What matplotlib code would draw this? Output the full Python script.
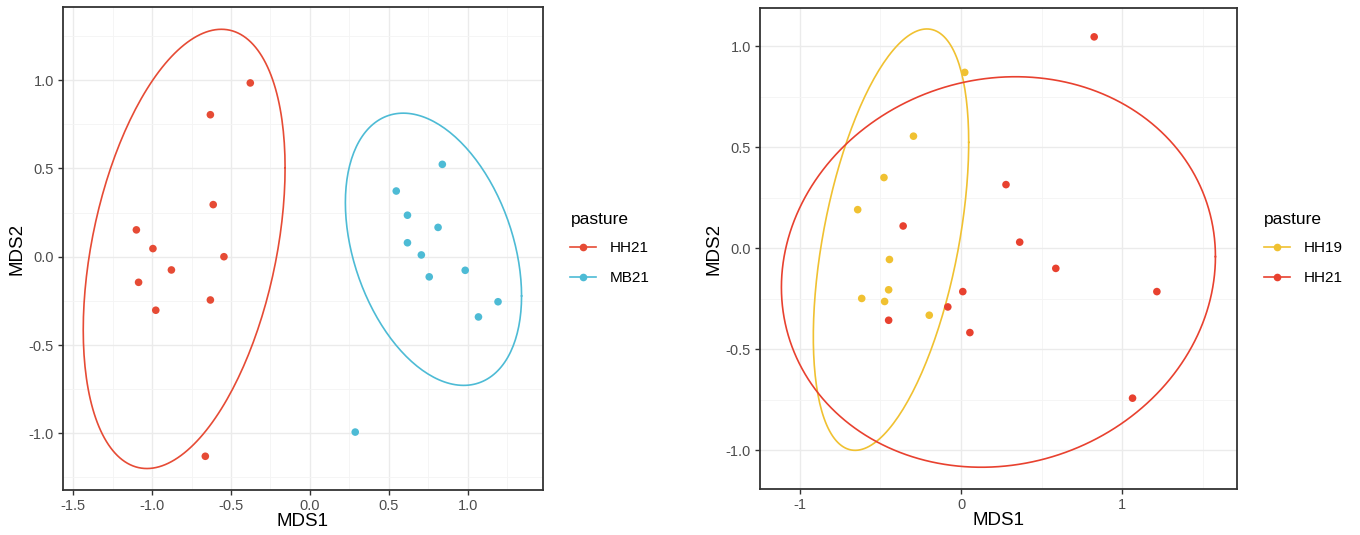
import numpy as np
import matplotlib
matplotlib.use('Agg')
import matplotlib.pyplot as plt
from matplotlib.lines import Line2D
from matplotlib.ticker import MultipleLocator

plt.rcParams['font.family'] = ['Liberation Sans', 'DejaVu Sans']

# left panel: HH21 vs MB21
L_HH21_X = [-0.378, -0.631, -0.613, -1.100, -0.995, -0.878, -0.545, -1.086, -0.977, -0.631, -0.663]
L_HH21_Y = [0.984, 0.804, 0.295, 0.152, 0.046, -0.075, 0.000, -0.145, -0.303, -0.245, -1.130]
L_MB21_X = [0.839, 0.547, 0.618, 0.812, 0.618, 0.706, 0.984, 0.756, 1.192, 1.068, 0.287]
L_MB21_Y = [0.523, 0.372, 0.235, 0.166, 0.079, 0.010, -0.077, -0.114, -0.255, -0.341, -0.993]

# right panel: HH19 vs HH21
R_HH19_X = [0.023, -0.295, -0.478, -0.641, -0.444, -0.449, -0.616, -0.474, -0.197]
R_HH19_Y = [0.871, 0.555, 0.350, 0.191, -0.056, -0.206, -0.249, -0.264, -0.332]
R_HH21_X = [0.826, 0.279, -0.359, 0.364, 0.588, 0.011, 1.215, -0.082, -0.449, 0.055, 1.064]
R_HH21_Y = [1.047, 0.315, 0.110, 0.030, -0.100, -0.215, -0.215, -0.291, -0.357, -0.418, -0.743]

RED = '#E64B35'
CYAN = '#4DBBD5'
YELLOW = '#F0C131'
RED2 = '#E8412F'


def cov_trob(pts, nu=5, maxit=25, tol=0.01):
	# port of MASS::cov.trob, as used by stat_ellipse(type = "t")
	n, p = pts.shape
	wt = np.ones(n)
	loc = pts.mean(axis=0)
	w = np.sqrt(wt)
	for _ in range(maxit):
		w0 = w
		X = pts - loc
		sw = np.sqrt(w / w.sum())
		_, d, vt = np.linalg.svd(sw[:, None] * X, full_matrices=False)
		wX = X @ vt.T @ np.diag(1 / d)
		Q = (wX ** 2).sum(axis=1)
		w = wt * (nu + p) / (nu + Q)
		loc = (w[:, None] * pts).sum(axis=0) / w.sum()
		if np.all(np.abs(w - w0) < tol):
			break
	sX = np.sqrt(w)[:, None] * X
	return loc, sX.T @ sX / wt.sum()


def ellipse(xs, ys, level=0.95, segments=201):
	pts = np.column_stack([xs, ys])
	center, shape = cov_trob(pts)
	dfd = len(xs) - 1
	# F(2, dfd) quantile in closed form
	qf = dfd / 2 * ((1 - level) ** (-2 / dfd) - 1)
	radius = np.sqrt(2 * qf)
	t = np.linspace(0, 2 * np.pi, segments)
	unit = np.column_stack([np.cos(t), np.sin(t)])
	ell = center + radius * unit @ np.linalg.cholesky(shape).T
	return ell[:, 0], ell[:, 1]


def style_axes(ax, xmaj, xmin, ymaj, ymin):
	ax.set_facecolor('white')
	ax.xaxis.set_major_locator(MultipleLocator(xmaj))
	ax.xaxis.set_minor_locator(MultipleLocator(xmin))
	ax.yaxis.set_major_locator(MultipleLocator(ymaj))
	ax.yaxis.set_minor_locator(MultipleLocator(ymin))
	ax.grid(which='major', color='#EBEBEB', lw=1.0)
	ax.grid(which='minor', color='#F4F4F4', lw=0.6)
	ax.set_axisbelow(True)
	for s in ax.spines.values():
		s.set_color('#333333')
		s.set_linewidth(1.3)
	ax.tick_params(which='major', length=3.5, width=1.0, color='#333333',
		labelsize=10.5, labelcolor='#4D4D4D', pad=3)
	ax.tick_params(which='minor', length=0)
	ax.set_xlabel('MDS1', fontsize=13.5, labelpad=0)
	ax.set_ylabel('MDS2', fontsize=13.5, labelpad=2)


def add_group(ax, xs, ys, color):
	ex, ey = ellipse(xs, ys)
	ax.plot(ex, ey, color=color, lw=1.2, zorder=2, solid_joinstyle='round')
	ax.scatter(xs, ys, s=30, color=color, edgecolors='none', zorder=3)


def add_legend(ax, labels, colors):
	handles = [Line2D([], [], color=c, lw=1.2, marker='o', markersize=5.5,
		markeredgewidth=0) for c in colors]
	leg = ax.legend(handles, labels, title='pasture', loc='center left',
		bbox_to_anchor=(1.035, 0.5), frameon=False, fontsize=11,
		title_fontsize=12.5, handlelength=1.7, handletextpad=0.85,
		labelspacing=1.05, borderpad=0.2)
	leg._legend_box.align = 'left'
	leg._legend_box.sep = 10


fig = plt.figure(figsize=(13.6, 5.35), dpi=100)
ax1 = fig.add_axes([63 / 1360, 1 - 490 / 535, 480 / 1360, 483 / 535])
ax2 = fig.add_axes([760 / 1360, 1 - 489 / 535, 477 / 1360, 481 / 535])

style_axes(ax1, 0.5, 0.25, 0.5, 0.25)
add_group(ax1, L_HH21_X, L_HH21_Y, RED)
add_group(ax1, L_MB21_X, L_MB21_Y, CYAN)
ax1.set_xlim(-1.565, 1.477)
ax1.set_ylim(-1.321, 1.414)
ax1.xaxis.set_major_formatter(lambda v, p: f'{v:.1f}')
ax1.yaxis.set_major_formatter(lambda v, p: f'{v:.1f}')
add_legend(ax1, ['HH21', 'MB21'], [RED, CYAN])

style_axes(ax2, 1.0, 0.5, 0.5, 0.25)
add_group(ax2, R_HH19_X, R_HH19_Y, YELLOW)
add_group(ax2, R_HH21_X, R_HH21_Y, RED2)
ax2.set_xlim(-1.247, 1.712)
ax2.set_ylim(-1.193, 1.19)
ax2.xaxis.set_major_formatter(lambda v, p: f'{v:.0f}')
ax2.yaxis.set_major_formatter(lambda v, p: f'{v:.1f}')
add_legend(ax2, ['HH19', 'HH21'], [YELLOW, RED2])

fig.savefig('out.png', dpi=100)
